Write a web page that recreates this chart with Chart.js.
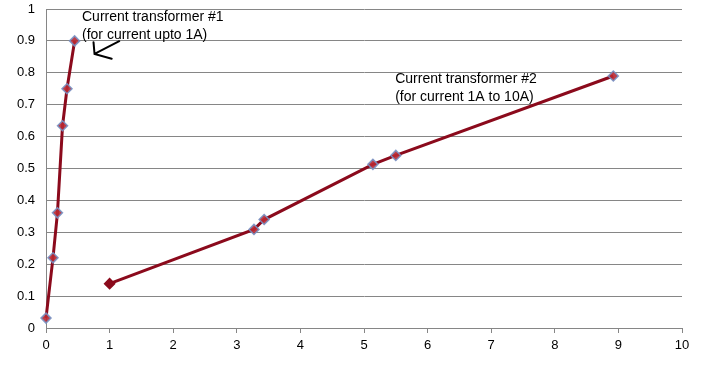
<!DOCTYPE html>
<html>
<head>
<meta charset="utf-8">
<script src="https://cdn.jsdelivr.net/npm/chart.js@4/dist/chart.umd.min.js"></script>
<style>
html,body{margin:0;padding:0;background:#fff;}
#wrap{width:709px;height:369px;}
</style>
</head>
<body>
<div id="wrap"><canvas id="c" width="709" height="369"></canvas></div>
<script>
// Series 1: Current transformer #1
const ct1X = [0, 0.11, 0.18, 0.26, 0.33, 0.45];
const ct1Y = [0.031, 0.22, 0.361, 0.634, 0.75, 0.90];
// Series 2: Current transformer #2
const ct2X = [1.0, 3.27, 3.43, 5.14, 5.5, 8.92];
const ct2Y = [0.139, 0.309, 0.34, 0.513, 0.541, 0.79];

const xTickLabels = ['0','1','2','3','4','5','6','7','8','9','10'];
const yTickLabels = ['0','0.1','0.2','0.3','0.4','0.5','0.6','0.7','0.8','0.9','1'];

const label1 = ['Current transformer #1', '(for current upto 1A)'];
const label2 = ['Current transformer #2', '(for current 1A to 10A)'];

const toPts = (xs, ys) => xs.map((x, i) => ({x: x, y: ys[i]}));

const annot = {
  id: 'annot',
  afterDatasetsDraw(chart) {
    const ctx = chart.ctx;
    const xs = chart.scales.x, ys = chart.scales.y;
    ctx.save();
    ctx.fillStyle = '#000';
    ctx.font = '14px "Liberation Sans", Arial, sans-serif';
    ctx.textAlign = 'left';
    ctx.textBaseline = 'middle';
    const drawLabel = (lines, dx, dy) => {
      const px = xs.getPixelForValue(dx), py = ys.getPixelForValue(dy);
      lines.forEach((t, i) => ctx.fillText(t, px, py + i * 18));
    };
    drawLabel(label1, 0.566, 0.975);
    drawLabel(label2, 5.49, 0.779);
    // arrow
    const P = (x, y) => [xs.getPixelForValue(x), ys.getPixelForValue(y)];
    const tail = P(1.152, 0.899), tip = P(0.763, 0.859), w1 = P(0.747, 0.896), w2 = P(1.033, 0.844);
    ctx.strokeStyle = '#000';
    ctx.lineWidth = 2;
    ctx.lineCap = 'round';
    ctx.beginPath();
    ctx.moveTo(tail[0], tail[1]); ctx.lineTo(tip[0], tip[1]);
    ctx.moveTo(w1[0], w1[1]); ctx.lineTo(tip[0], tip[1]); ctx.lineTo(w2[0], w2[1]);
    ctx.stroke();
    ctx.restore();
  }
};

const bg = {
  id: 'bg',
  beforeDraw(chart) {
    const ctx = chart.ctx;
    ctx.save();
    ctx.fillStyle = '#fff';
    ctx.fillRect(0, 0, chart.width, chart.height);
    ctx.restore();
  }
};

const lineColor = '#8B0A1C';
const mkFill = 'rgba(185,40,50,0.9)';
const mkBorder = 'rgba(120,145,195,0.9)';
const common = {
  showLine: true,
  clip: false,
  borderColor: lineColor,
  borderWidth: 3,
  pointStyle: 'rectRot',
  pointRadius: 5,
  pointBorderWidth: 1.5,
  pointBorderColor: mkBorder,
  pointBackgroundColor: mkFill,
  tension: 0
};

new Chart(document.getElementById('c'), {
  type: 'scatter',
  data: {
    datasets: [
      Object.assign({label: label1[0], data: toPts(ct1X, ct1Y)}, common),
      Object.assign({label: label2[0], data: toPts(ct2X, ct2Y)}, common, {
        pointBackgroundColor: ct2X.map((_, i) => i === 0 ? lineColor : mkFill),
        pointBorderColor: ct2X.map((_, i) => i === 0 ? lineColor : mkBorder)
      })
    ]
  },
  options: {
    responsive: false,
    animation: false,
    layout: {padding: {left: 0, right: 27, top: 9, bottom: 0}},
    plugins: {legend: {display: false}, tooltip: {enabled: false}},
    scales: {
      x: {
        type: 'linear', min: 0, max: 10,
        afterFit(s) { s.height = 41; s.paddingLeft = 0; s.paddingRight = 0; },
        border: {color: '#868686', width: 1},
        grid: {drawOnChartArea: false, drawTicks: true, tickLength: 5, color: '#868686'},
        ticks: {
          stepSize: 1, padding: 5, color: '#000',
          font: {family: '"Liberation Sans", Arial, sans-serif', size: 13},
          callback: (v) => xTickLabels[Math.round(v)] ?? ''
        }
      },
      y: {
        type: 'linear', min: 0, max: 1,
        afterFit(s) { s.width = 46; s.paddingTop = 0; s.paddingBottom = 0; },
        border: {color: '#868686', width: 1},
        grid: {color: '#868686', drawTicks: false},
        ticks: {
          stepSize: 0.1, padding: 11, color: '#000',
          font: {family: '"Liberation Sans", Arial, sans-serif', size: 13},
          callback: (v) => yTickLabels[Math.round(v * 10)] ?? ''
        }
      }
    }
  },
  plugins: [bg, annot]
});
</script>
</body>
</html>
